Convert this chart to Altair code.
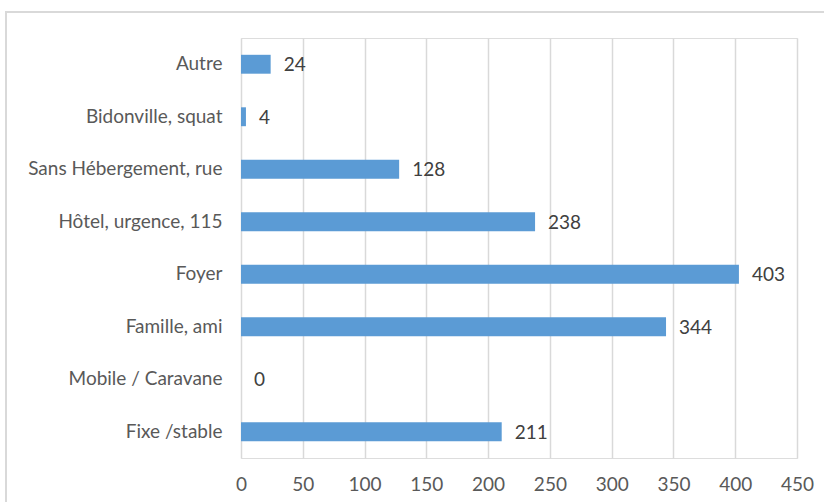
import altair as alt
import pandas as pd

categories = [
    "Autre",
    "Bidonville, squat",
    "Sans Hébergement, rue",
    "Hôtel, urgence, 115",
    "Foyer",
    "Famille, ami",
    "Mobile / Caravane",
    "Fixe /stable",
]
values = [24, 4, 128, 238, 403, 344, 0, 211]
x_ticks = [0, 50, 100, 150, 200, 250, 300, 350, 400, 450]

df = pd.DataFrame({"categorie": categories, "valeur": values})

FONT = "Lato, sans-serif"
PLOT_W, PLOT_H = 556, 420
LEFT, TOP = 241, 38

y_enc = alt.Y(
    "categorie:N",
    sort=categories,
    scale=alt.Scale(paddingInner=0.64, paddingOuter=0.32),
    axis=alt.Axis(
        title=None,
        ticks=False,
        domain=False,
        labelFont=FONT,
        labelFontSize=19,
        labelColor="#595959",
        labelPadding=19,
        labelLimit=400,
    ),
)
x_enc = alt.X(
    "valeur:Q",
    scale=alt.Scale(domain=[0, 450], nice=False),
    axis=alt.Axis(
        title=None,
        values=x_ticks,
        ticks=False,
        domain=False,
        grid=True,
        gridColor="#d9d9d9",
        gridWidth=1.5,
        labelFont=FONT,
        labelFontSize=19,
        labelColor="#595959",
        labelPadding=17,
        labelFlush=False,
        labelOverlap=False,
    ),
)

# outer chart frame
frame = alt.Chart(df).mark_rect(
    fill=None, stroke="#d9d9d9", strokeWidth=1.5
).encode(
    x=alt.value(6 - LEFT),
    x2=alt.value(900),
    y=alt.value(12 - TOP),
    y2=alt.value(600),
)

bars = alt.Chart(df).mark_bar(color="#5b9bd5").encode(x=x_enc, y=y_enc)

labels = alt.Chart(df).mark_text(
    align="left", baseline="middle", dx=13, dy=1,
    font=FONT, fontSize=19, color="#404040",
).encode(
    x=alt.X("valeur:Q"),
    y=alt.Y("categorie:N", sort=categories),
    text=alt.Text("valeur:Q"),
)

chart = alt.layer(frame, bars, labels).properties(
    width=PLOT_W,
    height=PLOT_H,
    autosize=alt.AutoSizeParams(type="none"),
    padding={"left": LEFT, "top": TOP, "right": 824 - LEFT - PLOT_W, "bottom": 502 - TOP - PLOT_H},
).configure_view(stroke=None).configure(background="white")

chart.save("out.html", embed_options={"renderer": "svg", "actions": False})
